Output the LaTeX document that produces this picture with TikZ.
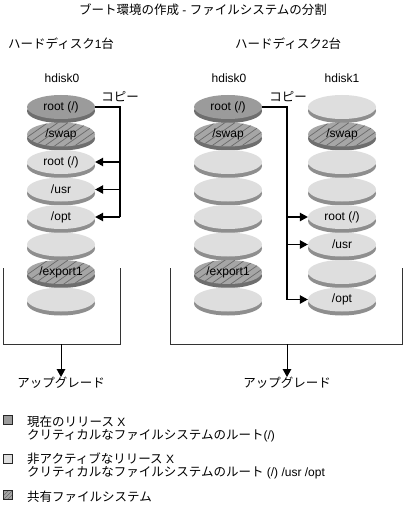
\documentclass[tikz,border=0pt]{standalone}
\usepackage{fontspec}
\setmainfont{Liberation Sans}
\newfontfamily\jp{Noto Sans CJK JP}
\usetikzlibrary{shapes.geometric,arrows.meta}
\newcommand\lt{\normalfont\fontsize{12}{14}\selectfont}
\definecolor{darkface}{HTML}{9B9B9B}
\definecolor{darkrimc}{HTML}{6E6E6E}
\definecolor{lightface}{HTML}{DEDEDE}
\definecolor{lightrimc}{HTML}{8E8E8E}
\definecolor{hatchface}{HTML}{A6A6A6}
\definecolor{hatchline}{HTML}{6A6A6A}
\tikzset{
  disk/.style={ellipse, inner sep=0pt, minimum width=68pt, minimum height=24pt, font=\fontsize{12}{14}\selectfont},
  darkd/.style={fill=darkface},
  lightd/.style={fill=lightface},
  hatchd/.style={fill=hatchface, path picture={
      \foreach \k in {-7,...,7}{
        \draw[hatchline, line width=0.7pt] ([xshift=\k*10pt-20pt, yshift=-14pt]path picture bounding box.center) -- ++(40pt,28pt);}}},
  darkdrim/.style={fill=darkrimc},
  lightdrim/.style={fill=lightrimc},
  hatchdrim/.style={fill=darkrimc},
  lbl/.style={font=\jp\fontsize{12.5}{14}\selectfont, inner sep=0pt},
  lat/.style={font=\fontsize{12}{14}\selectfont, inner sep=0pt},
  conn/.style={line width=1.2pt},
  arr/.style={line width=1.2pt, -{Triangle[width=8.5pt,length=8pt]}},
  boxl/.style={line width=0.9pt, draw=black!80},
  key/.style={draw=black!85, line width=0.6pt, minimum size=9pt, inner sep=0pt},
}
\newcommand\dsk[5]{%
  \fill[#4rim] (#2,#3+4) ellipse [x radius=34pt, y radius=12pt];
  \node[disk,#4] (#1) at (#2,#3) {#5};
}
\begin{document}
\begin{tikzpicture}[x=1pt,y=-1pt]
\useasboundingbox (0,0) rectangle (406,505);
% titles
\node[lbl] (title) at (203,10) {ブート環境の作成{\lt\ -\ }ファイルシステムの分割};
\node[lbl, anchor=west] (h1) at (8,44) {ハードディスク{\lt 1}台};
\node[lbl, anchor=west] (h2) at (235,44) {ハードディスク{\lt 2}台};
\node[lat] (d0a) at (62,78) {hdisk0};
\node[lat] (d0b) at (229,78) {hdisk0};
\node[lat] (d1) at (342,78) {hdisk1};
\node[lbl] (cp1) at (120,97) {コピー};
\node[lbl] (cp2) at (288,97) {コピー};
% left stack
\dsk{L1}{61}{107}{darkd}{root (/)}
\dsk{L2}{61}{134.5}{hatchd}{/swap}
\dsk{L3}{61}{162}{lightd}{root (/)}
\dsk{L4}{61}{189.5}{lightd}{/usr}
\dsk{L5}{61}{217}{lightd}{/opt}
\dsk{L6}{61}{244.5}{lightd}{}
\dsk{L7}{61}{272}{hatchd}{/export1}
\dsk{L8}{61}{299.5}{lightd}{}
% middle stack
\dsk{M1}{228}{107}{darkd}{root (/)}
\dsk{M2}{228}{134.5}{hatchd}{/swap}
\dsk{M3}{228}{162}{lightd}{}
\dsk{M4}{228}{189.5}{lightd}{}
\dsk{M5}{228}{217}{lightd}{}
\dsk{M6}{228}{244.5}{lightd}{}
\dsk{M7}{228}{272}{hatchd}{/export1}
\dsk{M8}{228}{299.5}{lightd}{}
% right stack
\dsk{R1}{342}{107}{lightd}{}
\dsk{R2}{342}{134.5}{hatchd}{/swap}
\dsk{R3}{342}{162}{lightd}{}
\dsk{R4}{342}{189.5}{lightd}{}
\dsk{R5}{342}{217}{lightd}{root (/)}
\dsk{R6}{342}{244.5}{lightd}{/usr}
\dsk{R7}{342}{272}{lightd}{}
\dsk{R8}{342}{299.5}{lightd}{/opt}
% copy connectors left
\coordinate (cL) at (120,217);
\draw[conn] (L1.east) -| (cL);
\draw[arr] (L3.east -| cL) -- (L3.east);
\draw[arr] (L4.east -| cL) -- (L4.east);
\draw[arr] (L5.east -| cL) -- (L5.east);
% copy connectors middle
\coordinate (cM) at (287,299.5);
\draw[conn] (M1.east) -| (cM);
\draw[arr] (R5.west -| cM) -- (R5.west);
\draw[arr] (R6.west -| cM) -- (R6.west);
\draw[arr] (R8.west -| cM) -- (R8.west);
% boxes
\coordinate (bL) at (61,344);
\coordinate (bM) at (287,344);
\draw[boxl] (3,268) -- (3,344) -- (120,344) -- (120,268);
\draw[boxl] (170,268) -- (170,344) -- (402,344) -- (402,268);
\node[lbl] (up1) at (61,383) {アップグレード};
\node[lbl] (up2) at (287,383) {アップグレード};
\draw[arr, line width=1pt] (bL) -- (up1.north);
\draw[arr, line width=1pt] (bM) -- (up2.north);
% legend
\node[key, fill=darkface] (k1) at (8,420) {};
\node[key, fill=lightface] (k2) at (8,459) {};
\node[key, fill=hatchface, path picture={
   \foreach \k in {-2,...,2}{\draw[hatchline, line width=0.6pt] ([xshift=\k*4pt-6pt, yshift=-6pt]path picture bounding box.center) -- ++(12pt,12pt);}}] (k3) at (8,495) {};
\node[lbl, anchor=west] (t1a) at (27,422) {現在のリリース{\lt\ X}};
\node[lbl, anchor=west] (t1b) at (27,436) {クリティカルなファイルシステムのルート{\lt (/)}};
\node[lbl, anchor=west] (t2a) at (27,459) {非アクティブなリリース{\lt\ X}};
\node[lbl, anchor=west] (t2b) at (27,473) {クリティカルなファイルシステムのルート{\lt\ (/) /usr /opt}};
\node[lbl, anchor=west] (t3) at (27,497) {共有ファイルシステム};
\end{tikzpicture}
\end{document}
